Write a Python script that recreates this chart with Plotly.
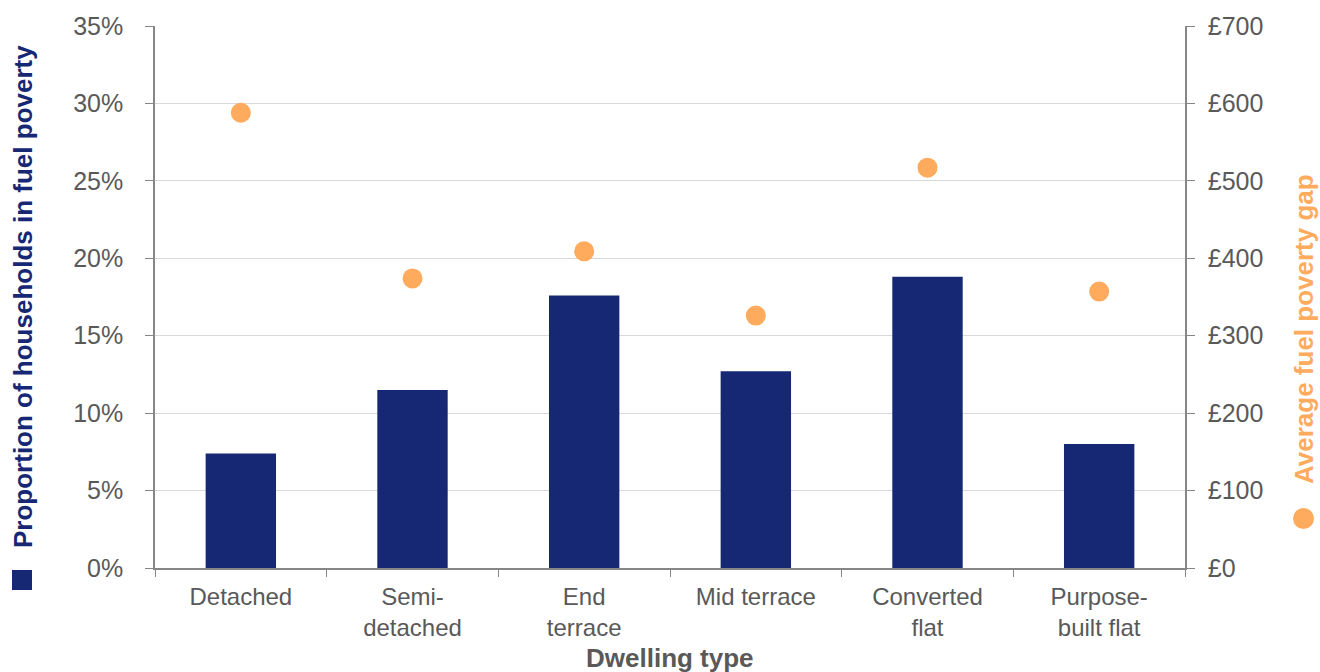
import plotly.graph_objects as go

# Fuel poverty by dwelling type
dwelling_types = ["Detached", "Semi-<br>detached", "End<br>terrace", "Mid terrace",
                  "Converted<br>flat", "Purpose-<br>built flat"]
proportion_pct = [7.4, 11.5, 17.6, 12.7, 18.8, 8.0]
avg_gap_gbp = [588, 374, 409, 326, 517, 357]

NAVY = "#162873"
ORANGE = "#FFAB5E"
TEXT = "#595959"
AXIS = "#868686"
GRID = "#D9D9D9"
FONT = "Liberation Sans, Arial, sans-serif"

W, H = 1320, 672
L, R, T, B = 155, 1185, 26, 568  # plot-area edges in pixels


def px_x(p):
    return (p - L) / (R - L)


def px_y(p):
    return (B - p) / (B - T)


fig = go.Figure()
fig.add_trace(go.Bar(
    x=dwelling_types, y=proportion_pct, marker_color=NAVY,
    marker_line_width=0, name="Proportion of households in fuel poverty",
))
fig.add_trace(go.Scatter(
    x=dwelling_types, y=avg_gap_gbp, yaxis="y2", mode="markers",
    marker=dict(color=ORANGE, size=20), name="Average fuel poverty gap",
))

fig.update_layout(
    width=W, height=H,
    margin=dict(l=L, r=W - R, t=T, b=H - B),
    paper_bgcolor="white", plot_bgcolor="white",
    showlegend=False, bargap=0.59,
    font=dict(family=FONT, size=24, color=TEXT),
    xaxis=dict(
        showline=True, linecolor=AXIS, linewidth=1.5,
        ticks="outside", tickson="boundaries", ticklen=7, tickcolor=AXIS,
        tickfont=dict(size=24, color=TEXT), showgrid=False,
        ticklabelstandoff=6,
    ),
    yaxis=dict(
        range=[0, 35], dtick=5, ticksuffix="%",
        showline=True, linecolor=AXIS, linewidth=1.5,
        ticks="outside", ticklen=8, tickcolor=AXIS,
        showgrid=True, gridcolor=GRID, gridwidth=1,
        tickfont=dict(size=25, color=TEXT), zeroline=False,
        ticklabelstandoff=17,
    ),
    yaxis2=dict(
        range=[0, 700], dtick=100, tickprefix="£", overlaying="y", side="right",
        showline=True, linecolor=AXIS, linewidth=1.5,
        ticks="outside", ticklen=8, tickcolor=AXIS,
        showgrid=False, zeroline=False,
        tickfont=dict(size=25, color=TEXT),
        ticklabelstandoff=8,
    ),
)

annotations = [
    dict(text="<b>Dwelling type</b>", x=px_x(670), y=px_y(658), xref="paper", yref="paper",
         showarrow=False, font=dict(size=26, color=TEXT), xanchor="center", yanchor="middle"),
    dict(text="<b>Proportion of households in fuel poverty</b>", x=px_x(23), y=px_y(297),
         xref="paper", yref="paper", showarrow=False, textangle=-90,
         font=dict(size=26, color=NAVY), xanchor="center", yanchor="middle"),
    dict(text="<b>Average fuel poverty gap</b>", x=px_x(1304), y=px_y(329),
         xref="paper", yref="paper", showarrow=False, textangle=-90,
         font=dict(size=26, color=ORANGE), xanchor="center", yanchor="middle"),
]
fig.update_layout(annotations=annotations)

shapes = [
    dict(type="rect", xref="paper", yref="paper",
         x0=px_x(12), x1=px_x(32), y0=px_y(590), y1=px_y(570),
         fillcolor=NAVY, line_width=0),
    dict(type="circle", xref="paper", yref="paper",
         x0=px_x(1293), x1=px_x(1314), y0=px_y(529), y1=px_y(508),
         fillcolor=ORANGE, line_width=0),
]
fig.update_layout(shapes=shapes)

fig.write_html("out.html")
